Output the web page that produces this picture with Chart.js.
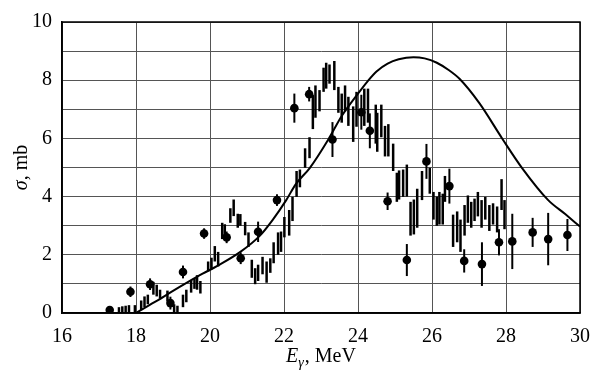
<!DOCTYPE html>
<html>
<head>
<meta charset="utf-8">
<script src="https://cdn.jsdelivr.net/npm/chart.js@4"></script>
<style>
  body { margin: 0; background: #fff; }
  canvas { display: block; }
</style>
</head>
<body>
<canvas id="chart" width="602" height="378"></canvas>
<script>
// measured points with error bars (markers)
const markerE = [17.29, 17.85, 18.38, 18.93, 19.27, 19.84, 20.45, 20.83, 21.30, 21.81, 22.28, 22.68, 23.31,
  24.09, 24.32, 24.80, 25.32, 25.85, 26.47, 26.87, 27.35, 27.81, 28.17, 28.72, 29.14, 29.66];
const markerS = [0.10, 0.73, 0.99, 0.34, 1.41, 2.73, 2.60, 1.88, 2.79, 3.88, 7.04, 7.52, 5.96,
  6.90, 6.26, 3.84, 1.82, 5.21, 4.36, 1.79, 1.68, 2.43, 2.46, 2.77, 2.54, 2.68];
const markerErr = [0.08, 0.18, 0.2, 0.22, 0.22, 0.18, 0.2, 0.2, 0.35, 0.2, 0.5, 0.25, 0.6,
  0.6, 0.6, 0.3, 0.55, 0.6, 0.6, 0.4, 0.75, 0.45, 0.95, 0.5, 0.9, 0.55];

// second data set: error bars only
const barE = [17.54, 17.63, 17.72, 17.81, 17.97, 18.14, 18.23, 18.32, 18.47, 18.56, 18.65, 18.85,
  19.03, 19.12, 19.27, 19.36, 19.49, 19.58, 19.65, 19.74, 19.95, 20.04, 20.13, 20.22, 20.33, 20.40,
  20.55, 20.64, 20.75, 20.82, 20.95, 21.04, 21.13, 21.22, 21.30, 21.42, 21.53, 21.63, 21.72, 21.84,
  21.92, 22.01, 22.14, 22.23, 22.34, 22.43, 22.57, 22.69, 22.78, 22.85, 22.96, 23.07, 23.14, 23.23,
  23.36, 23.47, 23.56, 23.65, 23.74, 23.87, 23.96, 24.17, 24.27, 24.48, 24.52, 24.63, 24.73, 24.82,
  24.95, 25.05, 25.11, 25.22, 25.32, 25.42, 25.51, 25.60, 25.73, 25.94, 26.04, 26.13, 26.20, 26.29,
  26.35, 26.57, 26.68, 26.77, 26.88, 26.97, 27.06, 27.15, 27.24, 27.34, 27.44, 27.55, 27.65, 27.76,
  27.88, 27.96];
const barLo = [0, 0, 0, 0, 0, 0.1, 0.2, 0.3, 0.63, 0.57, 0.5, 0.4,
  0, 0, 0.2, 0.37, 0.7, 0.83, 0.8, 0.67, 1.43, 1.5, 1.77, 1.6, 2.54, 2.5,
  3.1, 3.33, 2.93, 3.0, 2.67, 2.27, 1.21, 0.99, 1.1, 1.33, 1.04, 1.38, 1.71, 2.0,
  2.1, 2.6, 2.66, 3.16, 3.99, 4.32, 4.99, 5.32, 6.32, 6.71, 6.93, 7.6, 7.71, 7.88,
  7.66, 6.88, 6.54, 6.93, 6.43, 5.88, 6.4, 6.43, 6.54, 5.82, 5.54, 6.04, 5.38, 5.38,
  4.88, 3.82, 3.9, 3.99, 4.0, 2.66, 2.7, 2.93, 3.88, 4.1, 3.21, 3.0, 3.04, 3.04,
  3.82, 2.27, 2.43, 2.1, 2.66, 3.1, 2.93, 3.16, 3.32, 2.93, 3.21, 2.82, 3.04, 2.77,
  3.54, 2.88];
const barHi = [0.2, 0.23, 0.25, 0.27, 0.27, 0.43, 0.57, 0.63, 1.07, 0.97, 0.8, 0.77,
  0.3, 0.25, 0.63, 0.8, 1.13, 1.2, 1.3, 1.1, 1.77, 1.9, 2.3, 2.1, 3.1, 3.05,
  3.6, 3.9, 3.41, 3.4, 3.13, 2.77, 1.83, 1.54, 1.66, 1.93, 1.77, 1.88, 2.43, 2.77,
  2.8, 3.3, 3.54, 3.99, 4.88, 4.93, 5.66, 6.04, 7.49, 7.82, 7.66, 8.43, 8.6, 8.54,
  8.66, 7.77, 7.54, 7.82, 7.43, 7.1, 7.6, 7.71, 7.71, 7.16, 6.88, 7.16, 6.43, 6.49,
  5.82, 4.82, 4.9, 4.93, 5.1, 3.82, 3.9, 4.27, 4.88, 4.99, 4.16, 4.0, 4.16, 4.1,
  4.71, 3.38, 3.49, 3.21, 3.71, 4.04, 3.82, 3.93, 4.16, 3.88, 3.99, 3.71, 3.77, 3.66,
  4.6, 3.88];

// calculated curve
const curveE = [18.0, 18.5, 19.0, 19.4, 19.8, 20.2, 20.82, 21.35, 21.7, 22.06, 22.32, 22.7, 23.21, 23.56,
  24.0, 24.27, 24.5, 24.8, 25.1, 25.5, 25.8, 26.13, 26.45, 26.75, 27.28, 27.9, 28.43, 29.14, 29.6, 30.0];
const curveS = [0, 0.37, 0.76, 1.06, 1.35, 1.62, 2.1, 2.66, 3.21, 3.88, 4.43, 4.99, 5.99, 6.77,
  7.54, 7.98, 8.3, 8.57, 8.72, 8.79, 8.75, 8.6, 8.35, 8.04, 7.21, 5.99, 4.99, 3.88, 3.4, 2.97];

const serif = "'Liberation Serif', 'Times New Roman', serif";

const titles = {
  id: "titles",
  afterDraw(chart) {
    const ctx = chart.ctx;
    const area = chart.chartArea;
    ctx.save();
    // frame
    ctx.strokeStyle = "#000";
    ctx.lineWidth = 1.5;
    ctx.strokeRect(area.left, area.top, area.right - area.left, area.bottom - area.top);
    ctx.fillStyle = "#000";
    ctx.textBaseline = "alphabetic";
    // x title: E_gamma, MeV
    const cx = (area.left + area.right) / 2;
    const base = 362;
    ctx.font = `italic 20px ${serif}`;
    const wE = ctx.measureText("E").width;
    ctx.font = `italic 14px ${serif}`;
    const wG = ctx.measureText("γ").width + 1;
    ctx.font = `20px ${serif}`;
    const wR = ctx.measureText(", MeV").width;
    let x = cx - (wE + wG + wR) / 2;
    ctx.textAlign = "left";
    ctx.font = `italic 20px ${serif}`;
    ctx.fillText("E", x, base);
    x += wE;
    ctx.font = `italic 14px ${serif}`;
    ctx.fillText("γ", x, base + 5);
    x += wG;
    ctx.font = `20px ${serif}`;
    ctx.fillText(", MeV", x, base);
    // y title: sigma, mb
    ctx.translate(27, (area.top + area.bottom) / 2);
    ctx.rotate(-Math.PI / 2);
    ctx.font = `italic 20px ${serif}`;
    const wS = ctx.measureText("σ").width;
    ctx.font = `20px ${serif}`;
    const wM = ctx.measureText(", mb").width;
    const y = -(wS + wM) / 2;
    ctx.font = `italic 20px ${serif}`;
    ctx.fillText("σ", y, 0);
    ctx.font = `20px ${serif}`;
    ctx.fillText(", mb", y + wS, 0);
    ctx.restore();
  },
};

new Chart(document.getElementById("chart"), {
  type: "bar",
  data: {
    datasets: [
      {
        type: "line",
        data: curveE.map((e, i) => ({ x: e, y: curveS[i] })),
        borderColor: "#000",
        borderWidth: 2,
        pointRadius: 0,
        cubicInterpolationMode: "monotone",
        fill: false,
      },
      {
        type: "bar",
        data: barE.map((e, i) => ({ x: e, y: [barLo[i], barHi[i]] })),
        backgroundColor: "#000",
        barThickness: 2.5,
        inflateAmount: 0,
        grouped: false,
      },
      {
        type: "bar",
        data: markerE.map((e, i) => ({ x: e, y: [markerS[i] - markerErr[i], markerS[i] + markerErr[i]] })),
        backgroundColor: "#000",
        barThickness: 2,
        inflateAmount: 0,
        grouped: false,
      },
      {
        type: "scatter",
        data: markerE.map((e, i) => ({ x: e, y: markerS[i] })),
        backgroundColor: "#000",
        borderColor: "#000",
        pointRadius: 4.3,
        borderWidth: 0,
        showLine: false,
      },
    ],
  },
  options: {
    responsive: false,
    animation: false,
    layout: { padding: { top: 13, right: 13, left: 0, bottom: 0 } },
    plugins: { legend: { display: false }, tooltip: { enabled: false } },
    scales: {
      x: {
        type: "linear",
        min: 16,
        max: 30,
        offset: false,
        afterFit: (s) => { s.height = 65; },
        ticks: { stepSize: 2, color: "#000", padding: 12, maxRotation: 0, font: { family: serif, size: 20 } },
        grid: { display: true, drawTicks: false, offset: false, color: "#555", lineWidth: 1 },
        border: { display: true, color: "#000", width: 1.5 },
      },
      y: {
        type: "linear",
        min: 0,
        max: 10,
        afterFit: (s) => { s.width = 62; },
        ticks: {
          stepSize: 1,
          color: "#000",
          padding: 10,
          font: { family: serif, size: 20 },
          callback: (v) => (v % 2 === 0 ? v : ""),
        },
        grid: { display: true, drawTicks: false, color: "#555", lineWidth: 1 },
        border: { display: true, color: "#000", width: 1.5 },
      },
    },
  },
  plugins: [titles],
});
</script>
</body>
</html>
